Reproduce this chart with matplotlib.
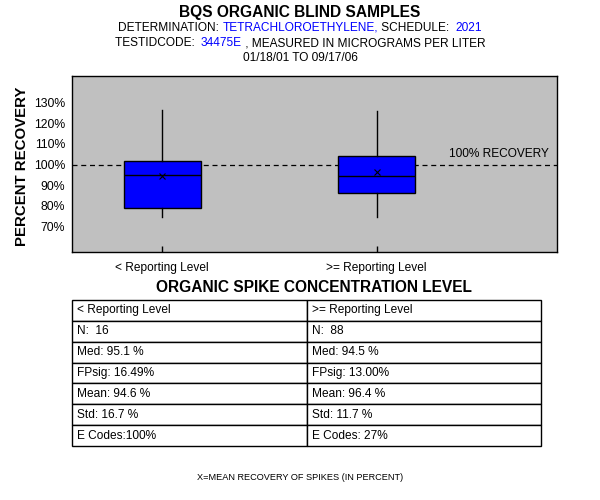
import matplotlib
matplotlib.use("Agg")
import matplotlib.pyplot as plt

plt.rcParams['font.family'] = ['Liberation Sans', 'DejaVu Sans']

# box plot values (percent recovery)
groups = ['< Reporting Level', '>= Reporting Level']
whisker_low = [74.8, 74.8]
q1 = [79.0, 86.1]
medians = [95.1, 94.5]
q3 = [101.7, 104.0]
whisker_high = [126.3, 125.8]
means = [94.6, 96.4]

yticks = [70, 80, 90, 100, 110, 120, 130]

# summary table
table_rows = [
    ['< Reporting Level', '>= Reporting Level'],
    ['N:  16', 'N:  88'],
    ['Med: 95.1 %', 'Med: 94.5 %'],
    ['FPsig: 16.49%', 'FPsig: 13.00%'],
    ['Mean: 94.6 %', 'Mean: 96.4 %'],
    ['Std: 16.7 %', 'Std: 11.7 %'],
    ['E Codes:100%', 'E Codes: 27%'],
]

header_lines = [
    [('DETERMINATION: ', 'black'), ('TETRACHLOROETHYLENE,', 'blue'),
     (' SCHEDULE:  ', 'black'), ('2021', 'blue')],
    [('TESTIDCODE:  ', 'black'), ('34475E', 'blue'),
     (' , MEASURED IN MICROGRAMS PER LITER', 'black')],
    [('01/18/01 TO 09/17/06', 'black')],
]

W, H = 600, 500
fs = 8.6
fig = plt.figure(figsize=(6, 5), dpi=100)
fig.patch.set_facecolor('white')

# main plot area
ax = fig.add_axes([72 / W, 1 - 252 / H, 485 / W, 176 / H])
ax.set_facecolor('#c0c0c0')

stats = []
for i in range(len(groups)):
    stats.append(dict(whislo=whisker_low[i], q1=q1[i], med=medians[i],
                      q3=q3[i], whishi=whisker_high[i], mean=means[i],
                      fliers=[]))

ax.bxp(stats, positions=[1, 2], widths=0.36, patch_artist=True,
       showmeans=True, showcaps=False,
       boxprops=dict(facecolor='#0000ff', edgecolor='black', linewidth=1),
       medianprops=dict(color='black', linewidth=1),
       whiskerprops=dict(color='black', linewidth=1),
       meanprops=dict(marker='x', markeredgecolor='black', markersize=5,
                      markeredgewidth=0.8))

ax.axhline(100, color='black', linestyle=(0, (4, 3)), linewidth=0.9, zorder=1)
ax.text(2.80, 102.2, '100% RECOVERY', fontsize=fs, ha='right', va='bottom')

ax.set_xlim(0.58, 2.84)
ax.set_ylim(57.8, 142.7)
ax.set_yticks(yticks)
ax.set_yticklabels([f'{v}%' for v in yticks], fontsize=fs + 0.2)
ax.set_xticks([1, 2])
ax.set_xticklabels(groups, fontsize=fs)
ax.tick_params(axis='y', length=0, pad=5)
ax.tick_params(axis='x', direction='in', length=4, width=1, pad=7)
for s in ax.spines.values():
    s.set_linewidth(1)

fig.text(22 / W, 1 - 166 / H, 'PERCENT RECOVERY', rotation=90,
         fontsize=10.8, fontweight='bold', ha='center', va='center')

# titles
fig.text(0.5, 1 - 12 / H, 'BQS ORGANIC BLIND SAMPLES', fontsize=11.2,
         fontweight='bold', ha='center', va='center')

renderer = fig.canvas.get_renderer()


def text_width(s, **kw):
    t = fig.text(0, 0, s + '|', **kw)
    w1 = t.get_window_extent(renderer).width
    t.set_text('|')
    w2 = t.get_window_extent(renderer).width
    t.remove()
    return w1 - w2


for line, yc in zip(header_lines, [28, 43, 58]):
    full = ''.join(p[0] for p in line)
    total = text_width(full, fontsize=fs)
    x0 = W / 2 - total / 2
    prefix = ''
    for txt, col in line:
        x = x0 + text_width(prefix, fontsize=fs) if prefix else x0
        fig.text(x / W, 1 - yc / H, txt, fontsize=fs, color=col,
                 ha='left', va='center')
        prefix += txt

fig.text(314 / W, 1 - 287 / H, 'ORGANIC SPIKE CONCENTRATION LEVEL',
         fontsize=11.2, fontweight='bold', ha='center', va='center')

# table
tax = fig.add_axes([72 / W, 1 - 446 / H, 469 / W, 146 / H])
tax.axis('off')
tbl = tax.table(cellText=table_rows, cellLoc='left', bbox=[0, 0, 1, 1])
tbl.auto_set_font_size(False)
tbl.set_fontsize(fs)
for cell in tbl.get_celld().values():
    cell.PAD = 0.022
    cell.set_linewidth(1)

fig.text(0.5, 1 - 478 / H, 'X=MEAN RECOVERY OF SPIKES (IN PERCENT)',
         fontsize=6.6, ha='center', va='center')

fig.savefig('out.png', dpi=100)
